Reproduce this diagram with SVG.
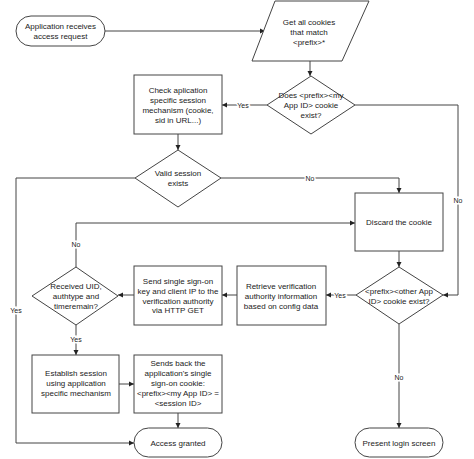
<svg xmlns="http://www.w3.org/2000/svg" width="474" height="459" viewBox="0 0 474 459">
<style>
.s{fill:#fff;stroke:#444;stroke-width:1}
.t{font-family:"Liberation Sans",Arial,sans-serif;font-size:8px;fill:#222;text-anchor:middle}
.c{fill:none;stroke:#444;stroke-width:1}
.l{font-family:"Liberation Sans",Arial,sans-serif;font-size:7px;fill:#222;text-anchor:middle;stroke:#fff;stroke-width:3;paint-order:stroke}
</style>
<defs>
<marker id="a" markerUnits="userSpaceOnUse" markerWidth="6" markerHeight="6" refX="5" refY="3" orient="auto">
<path d="M0,0.5 L5,3 L0,5.5 Z" fill="#222"/>
</marker>
</defs>
<rect width="474" height="459" fill="#fff"/>
<g id="connectors">
<path class="c" d="M105,31 H265" marker-end="url(#a)"/>
<path class="c" d="M310,61 V76" marker-end="url(#a)"/>
<path class="c" d="M267,105 H222" marker-end="url(#a)"/>
<path class="c" d="M178,134 V150" marker-end="url(#a)"/>
<path class="c" d="M221,178 H399 V193" marker-end="url(#a)"/>
<path class="c" d="M135,178 H16 V443 H134" marker-end="url(#a)"/>
<path class="c" d="M355,105 H458 V295 H443" marker-end="url(#a)"/>
<path class="c" d="M399,251 V267" marker-end="url(#a)"/>
<path class="c" d="M356,295 H326" marker-end="url(#a)"/>
<path class="c" d="M237,295 H222" marker-end="url(#a)"/>
<path class="c" d="M134,295 H118" marker-end="url(#a)"/>
<path class="c" d="M76,267 V223 H355" marker-end="url(#a)"/>
<path class="c" d="M76,325 V355" marker-end="url(#a)"/>
<path class="c" d="M119,384 H134" marker-end="url(#a)"/>
<path class="c" d="M178,413 V428" marker-end="url(#a)"/>
<path class="c" d="M399,324 V428" marker-end="url(#a)"/>
<text class="l" x="243" y="107.5">Yes</text>
<text class="l" x="310" y="180.5">No</text>
<text class="l" x="16" y="312.5">Yes</text>
<text class="l" x="458" y="202.5">No</text>
<text class="l" x="76" y="246.5">No</text>
<text class="l" x="340" y="297.5">Yes</text>
<text class="l" x="76" y="341.5">Yes</text>
<text class="l" x="399" y="379.5">No</text>
</g>
<g id="start">
<rect class="s" x="16" y="16" width="89" height="30" rx="15"/>
<text class="t" x="60.5" y="29">Application receives</text>
<text class="t" x="60.5" y="39">access request</text>
</g>
<g id="get-cookies">
<path class="s" d="M275,1 H369 L342,61 H252 Z"/>
<text class="t" x="309" y="25">Get all cookies</text>
<text class="t" x="309" y="35">that match</text>
<text class="t" x="309" y="45">&lt;prefix&gt;*</text>
</g>
<g id="my-cookie">
<path class="s" d="M311,76 L355,105 L311,134 L267,105 Z"/>
<text class="t" x="311" y="98">Does &lt;prefix&gt;&lt;my</text>
<text class="t" x="311" y="108">App ID&gt;  cookie</text>
<text class="t" x="311" y="118">exist?</text>
</g>
<g id="check-session">
<rect class="s" x="134" y="75" width="88" height="59"/>
<text class="t" x="178" y="93">Check aplication</text>
<text class="t" x="178" y="103">specific session</text>
<text class="t" x="178" y="113">mechanism (cookie,</text>
<text class="t" x="178" y="123">sid in URL...)</text>
</g>
<g id="valid-session">
<path class="s" d="M178,150 L221,178 L178,207 L135,178 Z"/>
<text class="t" x="178" y="176">Valid session</text>
<text class="t" x="178" y="186">exists</text>
</g>
<g id="discard">
<rect class="s" x="355" y="193" width="88" height="58"/>
<text class="t" x="399" y="225">Discard the cookie</text>
</g>
<g id="other-cookie">
<path class="s" d="M399,267 L443,295 L399,324 L356,295 Z"/>
<text class="t" x="399" y="294">&lt;prefix&gt;&lt;other App</text>
<text class="t" x="399" y="304">ID&gt; cookie exist?</text>
</g>
<g id="retrieve">
<rect class="s" x="237" y="266" width="89" height="59"/>
<text class="t" x="281" y="289">Retrieve verification</text>
<text class="t" x="281" y="299">authority information</text>
<text class="t" x="281" y="309">based on config data</text>
</g>
<g id="send">
<rect class="s" x="134" y="266" width="88" height="59"/>
<text class="t" x="178" y="284">Send single sign-on</text>
<text class="t" x="178" y="294">key and client IP to the</text>
<text class="t" x="178" y="304">verification authority</text>
<text class="t" x="178" y="313">via HTTP GET</text>
</g>
<g id="received">
<path class="s" d="M76,267 L118,296 L76,325 L32,296 Z"/>
<text class="t" x="76" y="289">Received UID,</text>
<text class="t" x="76" y="299">authtype and</text>
<text class="t" x="76" y="309">timeremain?</text>
</g>
<g id="establish">
<rect class="s" x="32" y="355" width="87" height="58"/>
<text class="t" x="76" y="376">Establish session</text>
<text class="t" x="76" y="386">using application</text>
<text class="t" x="76" y="396">specific mechanism</text>
</g>
<g id="sends-back">
<rect class="s" x="134" y="355" width="88" height="58"/>
<text class="t" x="178" y="366">Sends back the</text>
<text class="t" x="178" y="376">application's single</text>
<text class="t" x="178" y="386">sign-on cookie:</text>
<text class="t" x="178" y="396">&lt;prefix&gt;&lt;my App ID&gt; =</text>
<text class="t" x="178" y="406">&lt;session ID&gt;</text>
</g>
<g id="access-granted">
<rect class="s" x="134" y="428" width="88" height="29" rx="14.5"/>
<text class="t" x="178" y="446">Access granted</text>
</g>
<g id="login-screen">
<rect class="s" x="355" y="428" width="88" height="29" rx="14.5"/>
<text class="t" x="399" y="446">Present login screen</text>
</g>
</svg>
